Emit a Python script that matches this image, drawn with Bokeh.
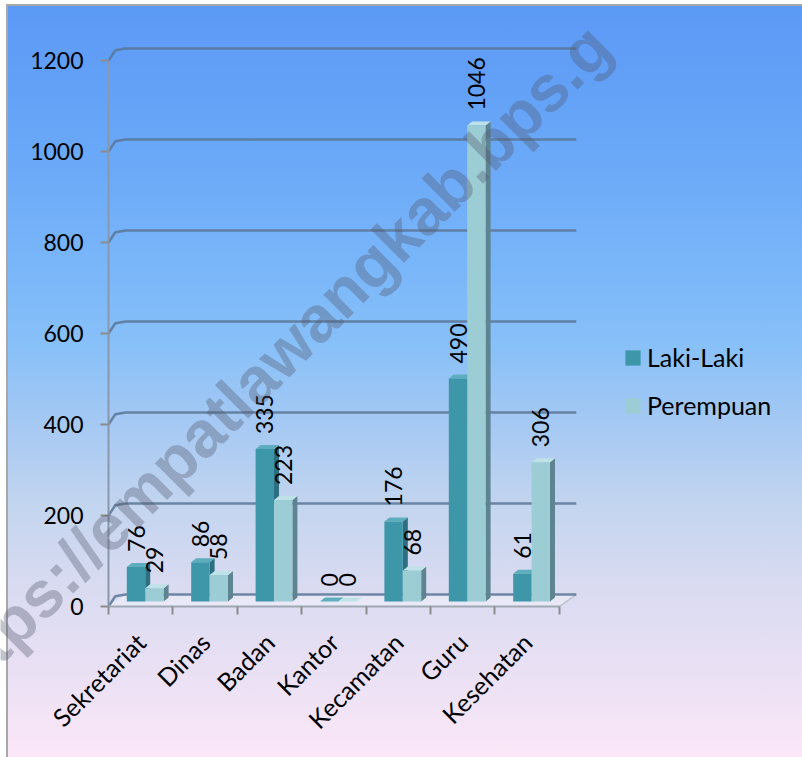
from math import pi

from bokeh.core.properties import value
from bokeh.embed import file_html
from bokeh.models import FixedTicker, Legend, LegendItem, LinearAxis, Range1d
from bokeh.plotting import figure
from bokeh.resources import INLINE

# --- data -------------------------------------------------------------
categories = ["Sekretariat", "Dinas", "Badan", "Kantor", "Kecamatan", "Guru", "Kesehatan"]
laki_laki = [76, 86, 335, 0, 176, 490, 61]
perempuan = [29, 58, 223, 0, 68, 1046, 306]
series_names = ["Laki-Laki", "Perempuan"]
y_ticks = [0, 200, 400, 600, 800, 1000, 1200]
watermark = "https://empatlawangkab.bps.g"

# --- geometry ---------------------------------------------------------
W, H = 802, 757
LEFT, BOTTOM = 108, 151
CAT_PX = 64.4     # pixels per category slot
VAL_PX = 0.455    # pixels per unit of value

n = len(categories)
y_max = y_ticks[-1]
x_end = (W - LEFT) / CAT_PX
y_end = (H - BOTTOM) / VAL_PX

# pseudo-3D depth offsets, expressed in data units
WALL_DX, WALL_DY = 17 / CAT_PX, 12 / VAL_PX
BAR_DX, BAR_BASE = 4.5 / CAT_PX, 5 / VAL_PX
BAR_W = 18.4 / CAT_PX
SIDE_DX, SIDE_DY = 5 / CAT_PX, 4 / VAL_PX
LABEL_GAP = 15 / VAL_PX

FONT = "Lato"

p = figure(
    width=W, height=H,
    x_range=Range1d(0, x_end), y_range=Range1d(0, y_end),
    x_axis_type=None, y_axis_type=None,
    output_backend="svg", toolbar_location=None,
    min_border_left=LEFT, min_border_right=0,
    min_border_top=0, min_border_bottom=BOTTOM,
)
p.background_fill_alpha = 0
p.border_fill_alpha = 0
p.outline_line_color = None
p.styles = {
    "background": (
        "linear-gradient(#a8a8a8,#a8a8a8) 6px 4px / 2px 753px no-repeat, "
        "linear-gradient(#a8a8a8,#a8a8a8) 6px 4px / 796px 2px no-repeat, "
        "linear-gradient(180deg, #5b99f6 0px, #6aa8f8 150px, #79b6f9 260px, "
        "#88c0f8 340px, #a6c9f3 420px, #c3d5ef 500px, #d9dbf1 580px, "
        "#e9e0f4 660px, #fbe7f8 751px) 8px 6px / 794px 751px no-repeat, #ffffff"
    )
}

# --- floor and back-wall gridlines -----------------------------------
p.patch([0, n, n + WALL_DX, WALL_DX], [0, 0, WALL_DY, WALL_DY],
        fill_color="#ffffff", fill_alpha=0.35, line_color=None)
p.line([n, n + WALL_DX], [0, WALL_DY], line_color="#b9c1cd", line_width=1.5)

grid_xs, grid_ys = [], []
for t in y_ticks:
    grid_xs.append([0, WALL_DX * 0.4, WALL_DX, n + WALL_DX])
    grid_ys.append([t, t + WALL_DY * 0.85, t + WALL_DY, t + WALL_DY])
p.multi_line(grid_xs, grid_ys, line_color="#5a7595", line_width=2.5, line_alpha=0.85)

# --- bars -------------------------------------------------------------
centers = [i + 0.5 for i in range(n)]
styles = [
    dict(front="#3d97a9", side="#2d6f80", top="#5cadbd"),
    dict(front="#9ccdd5", side="#5e8492", top="#bfe2e8"),
]
front_renderers = []
label_x, label_y, label_text = [], [], []
for k, vals in enumerate([laki_laki, perempuan]):
    st = styles[k]
    lefts = [c + BAR_DX - BAR_W + k * BAR_W for c in centers]
    rights = [l + BAR_W for l in lefts]
    tops = [BAR_BASE + v for v in vals]

    side_xs = [[r, r + SIDE_DX, r + SIDE_DX, r] for r in rights]
    side_ys = [[BAR_BASE, BAR_BASE + SIDE_DY, t + SIDE_DY, t] for t in tops]
    p.patches(side_xs, side_ys, fill_color=st["side"], line_color=None)

    top_xs = [[l, r, r + SIDE_DX, l + SIDE_DX] for l, r in zip(lefts, rights)]
    top_ys = [[t, t, t + SIDE_DY, t + SIDE_DY] for t in tops]
    p.patches(top_xs, top_ys, fill_color=st["top"], line_color=None)

    fr = p.quad(left=lefts, right=rights, bottom=BAR_BASE, top=tops,
                fill_color=st["front"], line_color=None)
    front_renderers.append(fr)

    for l, r, v, t in zip(lefts, rights, vals, tops):
        label_x.append((l + r) / 2)
        label_y.append(t + LABEL_GAP)
        label_text.append(str(v))

p.text(x=label_x, y=label_y, text=label_text, angle=pi / 2,
       text_align="left", text_baseline="middle",
       text_font=value(FONT), text_font_size="23px", text_color="#000000")

# --- axes -------------------------------------------------------------
yaxis = LinearAxis(
    ticker=FixedTicker(ticks=y_ticks), bounds=(0, y_max),
    axis_line_color="#8a98ac", axis_line_width=2,
    major_tick_out=8, major_tick_in=0,
    major_tick_line_color="#8c8c8c", major_tick_line_width=2,
    minor_tick_line_color=None,
    major_label_standoff=17,
    major_label_text_font=FONT, major_label_text_font_size="23px",
    major_label_text_color="#000000",
)
p.add_layout(yaxis, "left")

xaxis = LinearAxis(
    ticker=FixedTicker(ticks=centers, minor_ticks=list(range(n + 1))),
    bounds=(0, n),
    major_label_overrides={c: name for c, name in zip(centers, categories)},
    major_label_orientation=pi / 4,
    major_tick_out=0, major_tick_in=0,
    minor_tick_out=8, minor_tick_in=0,
    minor_tick_line_color="#8c8c8c", minor_tick_line_width=2,
    axis_line_color="#a0a8b4", axis_line_width=2,
    major_label_standoff=23,
    major_label_text_font=FONT, major_label_text_font_size="25px",
    major_label_text_color="#000000",
)
p.add_layout(xaxis, "below")

# --- legend -----------------------------------------------------------
legend = Legend(
    items=[LegendItem(label=name, renderers=[r])
           for name, r in zip(series_names, front_renderers)],
    location=(515, 186), orientation="vertical",
    background_fill_alpha=0, border_line_color=None,
    padding=0, margin=0, spacing=18,
    glyph_width=19, glyph_height=19, label_standoff=5, label_height=22,
    label_text_font=FONT, label_text_font_size="25px", label_text_color="#000000",
)
p.add_layout(legend)

# --- diagonal site watermark: a transparent full-page figure on top ------
wm = figure(
    width=W, height=H, x_range=Range1d(0, W), y_range=Range1d(0, H),
    x_axis_type=None, y_axis_type=None,
    output_backend="svg", toolbar_location=None,
    min_border=0,
)
wm.background_fill_alpha = 0
wm.border_fill_alpha = 0
wm.outline_line_color = None
wm.styles = {"position": "absolute", "left": "0px", "top": "0px"}
wm.text(x=[-60], y=[H - 694], text=[watermark], angle=pi / 4,
        text_align="left", text_baseline="alphabetic",
        text_font=value("Liberation Sans"), text_font_style="bold",
        text_font_size="65px", text_color="#50576a", text_alpha=0.35)

open("out.html", "w").write(file_html([p, wm], INLINE))
